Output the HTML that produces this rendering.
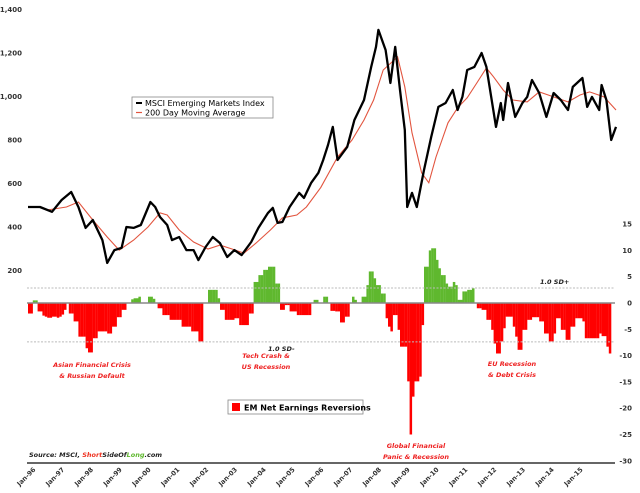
<!DOCTYPE html>
<html><head><meta charset="utf-8"><style>
body{margin:0;background:#fff;}
svg{display:block;font-family:"DejaVu Sans","Liberation Sans",sans-serif;}
</style></head><body>
<svg id="chart" width="640" height="493" viewBox="0 0 640 493"></svg>
<script>
// index data: months since Jan-96, value
const idxMonths=[0,5,10,14,18,21,24,27,31,33,36,39,41,44,47,51,53,55,58,60,63,66,69,71,74,77,80,83,86,89,93,96,100,102,104,106,109,113,115,118,121,123,125,127,129,133,136,140,143,145,146,149,151,153,155,157,158,160,162,165,168,171,174,177,179,181,183,186,189,191,193,195,197,198,200,203,206,208,210,213,216,219,222,225,227,231,233,235,238,239,241,243,245];
const idxValues=[492,492,470,524,561,492,396,432,340,235,294,304,400,396,409,515,492,446,409,340,354,294,294,248,308,354,326,262,294,271,331,396,465,488,419,423,492,557,534,603,649,708,777,860,708,768,892,984,1136,1228,1306,1214,1062,1228,1030,846,492,557,492,662,814,952,970,1030,938,998,1122,1136,1200,1136,998,860,970,892,1062,906,970,998,1076,1016,906,1016,984,938,1044,1085,952,998,938,1053,984,800,860];
const maMonths=[8,16,21,27,33,38,44,50,55,58,63,69,75,80,85,90,95,101,106,112,116,122,129,135,140,144,148,154,157,160,164,167,170,175,179,183,187,191,194,198,202,208,213,219,225,230,234,240,245];
const maValues=[478,492,515,432,354,294,340,400,465,455,386,331,299,317,299,280,326,386,442,455,492,582,722,800,892,984,1122,1182,1044,833,649,603,722,879,948,994,1062,1131,1090,1030,984,975,1021,998,975,1007,1021,998,938];
const revisions=[-2,-2,0.5,0.5,-1.6,-1.6,-2.4,-2.6,-2.8,-2.8,-2.6,-2.6,-2.8,-2.6,-2.2,-1.3,0,-2,-2,-3.5,-3.5,-6.4,-6.4,-6.4,-8.6,-9.4,-9.4,-6.7,-6.7,-5.4,-5.4,-5.4,-5.4,-5.8,-5.8,-4.5,-4.5,-2.7,-2.7,-1.3,-1.3,0,0,0.7,0.9,0.9,1.2,0,0,0,1.2,1.2,0.8,0,-1,-1,-2.3,-2.3,-2.3,-3.2,-3.2,-3.2,-3.2,-3.2,-4.5,-4.5,-4.5,-4.5,-5.4,-5.4,-5.4,-7.3,-7.3,0,0,2.5,2.5,2.5,2.5,0.9,-1.3,-1.3,-3.2,-3.2,-3.2,-3.2,-2.9,-2.9,-4.2,-4.2,-4.2,-4.2,-2,-2,4,4,5.3,5.3,6.3,6.3,6.9,6.9,6.9,3.7,3.7,-1.3,-1.3,-0.4,-0.4,-1.6,-1.6,-1.6,-2.3,-2.3,-2.3,-2.3,-2.3,-2.3,0,0.6,
0.6,0,0,1.2,1.2,0,-1.5,-1.5,-1.6,-1.6,-3.7,-3.7,-2.6,-2.6,0,1.2,0.6,0,0,1.2,1.2,3.4,6,6,4.7,3.4,3.4,1.8,1.8,-2.9,-4.5,-5.4,-2.3,-2.3,-5.1,-8.3,-8.3,-8.3,-14.9,-25,-17.8,-14.9,-14.9,-14,-4.2,6.9,6.9,10,10.4,10.4,8.2,6.6,5.3,5.3,3.7,3.1,3.1,4,3.4,0.6,0.6,2.2,2.2,2.5,2.5,2.8,0,-1,-1,-1.3,-1.3,-3.2,-3.2,-5.1,-7.7,-9.6,-9.6,-7.3,-4.8,-2.6,-2.6,-2.6,-4.5,-6.4,-8.9,-8.9,-5.1,-5.1,-3.2,-3.2,-2.7,-2.7,-2.7,-3.5,-3.5,-5.8,-5.8,-7.3,-7.3,-5.8,-2.9,-2.9,-5.1,-5.1,-7,-7,-4.5,-4.5,-2.9,-2.9,-2.9,-3.5,-6.7,-6.7,-6.7,-6.7,-6.7,-6.7,-5.8,-6.3,-6.3,-8.3,-9.6];
const leftTicks=[1400,1200,1000,800,600,400,200];
const leftTickLabels=["1,400","1,200","1,000","800","600","400","200"];
const rightTicks=[15,10,5,0,-5,-10,-15,-20,-25,-30];
const xLabels=["Jan-96","Jan-97","Jan-98","Jan-99","Jan-00","Jan-01","Jan-02","Jan-03","Jan-04","Jan-05","Jan-06","Jan-07","Jan-08","Jan-09","Jan-10","Jan-11","Jan-12","Jan-13","Jan-14","Jan-15"];
const sdPlus=2.85, sdMinus=-7.4;

const NS="http://www.w3.org/2000/svg";
const svg=document.getElementById('chart');
const xM=m=>28+m*2.4;
const yL=v=>314-v*0.2175;
const yR=v=>303-v*5.26;
function mk(tag,attrs,parent){const e=document.createElementNS(NS,tag);for(const k in attrs)e.setAttribute(k,attrs[k]);(parent||svg).appendChild(e);return e;}

// bars
const gBars=mk('g',{});


revisions.forEach((v,i)=>{
  if(v===0)return;
  const y0=yR(0),y1=yR(v);
  const r=mk('rect',{x:xM(i).toFixed(2),y:Math.min(y0,y1).toFixed(2),width:'2.5',height:Math.abs(y1-y0).toFixed(2),fill:v>0?'#5fb82e':'#ff0000'},gBars);
  
  
});
// sd lines
[[sdPlus,'sd-plus-line'],[sdMinus,'sd-minus-line']].forEach(([v,n])=>{
  const l=mk('line',{x1:27,x2:615,y1:yR(v),y2:yR(v),stroke:'#bbb','stroke-width':1,'stroke-dasharray':'2,1.5'});
  
  
});
const zl=mk('line',{x1:27,x2:615,y1:yR(0),y2:yR(0),stroke:'#888','stroke-width':1.5});


// MA line
const maP=mk('polyline',{points:maMonths.map((m,i)=>xM(m).toFixed(1)+','+yL(maValues[i]).toFixed(1)).join(' '),fill:'none',stroke:'#e2553f','stroke-width':1.1});


const ixP=mk('polyline',{points:idxMonths.map((m,i)=>xM(m).toFixed(1)+','+yL(idxValues[i]).toFixed(1)).join(' '),fill:'none',stroke:'#000','stroke-width':2.3,'stroke-linejoin':'round'});


// axis line
const ax=mk('line',{x1:27,x2:615,y1:463,y2:463,stroke:'#666','stroke-width':2});


// left ticks
leftTicks.forEach((v,i)=>{
  const t=mk('text',{x:22,y:yL(v)+2.5,'text-anchor':'end','font-size':'7','font-weight':'bold',fill:'#333'});
  t.textContent=leftTickLabels[i];
  
  
});
rightTicks.forEach(v=>{
  const t=mk('text',{x:632,y:yR(v)+2.5,'text-anchor':'end','font-size':'7','font-weight':'bold',fill:'#333'});
  t.textContent=String(v);
  
  
});
xLabels.forEach((s,i)=>{
  const x=xM(i*12)+8,y=470;
  const t=mk('text',{x:x,y:y,'text-anchor':'end','font-size':'6.5','font-weight':'bold',fill:'#333',transform:`rotate(-45 ${x} ${y})`});
  t.textContent=s;
  
  
});
</script>
<svg style="position:absolute;left:0;top:0" width="640" height="493">
  <g>
    <rect x="132" y="97" width="141" height="21" fill="#fff" stroke="#888" stroke-width="0.8"/>
    <line x1="136" x2="142" y1="103" y2="103" stroke="#000" stroke-width="2"/>
    <text x="145" y="106" font-size="8" font-family="DejaVu Sans, sans-serif" fill="#000">MSCI Emerging Markets Index</text>
    <line x1="136" x2="142" y1="112.5" y2="112.5" stroke="#e2553f" stroke-width="1.2"/>
    <text x="145" y="115.5" font-size="8" font-family="DejaVu Sans, sans-serif" fill="#000">200 Day Moving Average</text>
  </g>
  <g>
    <rect x="228" y="400" width="135" height="14" fill="#fff" stroke="#888" stroke-width="0.8"/>
    <rect x="232" y="403" width="8" height="8" fill="#ff0000"/>
    <text x="244" y="410.5" font-size="8" font-weight="bold" font-family="DejaVu Sans, sans-serif" fill="#000">EM Net Earnings Reversions</text>
  </g>
  <g font-family="DejaVu Sans, sans-serif" font-size="6.5" font-style="italic" font-weight="bold" fill="#ee2222" text-anchor="middle">
    <text x="92" y="367">Asian Financial Crisis</text>
    <text x="92" y="378">&amp; Russian Default</text>
    <text x="266" y="358">Tech Crash &amp;</text>
    <text x="266" y="369">US Recession</text>
    <text x="416" y="448">Global Financial</text>
    <text x="416" y="459">Panic &amp; Recession</text>
    <text x="512" y="366">EU Recession</text>
    <text x="512" y="377">&amp; Debt Crisis</text>
  </g>
  <g font-family="DejaVu Sans, sans-serif" font-size="6.5" font-style="italic" font-weight="bold" fill="#222">
    <text x="540" y="284">1.0 SD+</text>
    <text x="268" y="351">1.0 SD-</text>
    <text x="29" y="457">Source: MSCI, <tspan fill="#ee3322">Short</tspan>SideOf<tspan fill="#5fb82e">Long</tspan>.com</text>
  </g>
</svg>
</body></html>
